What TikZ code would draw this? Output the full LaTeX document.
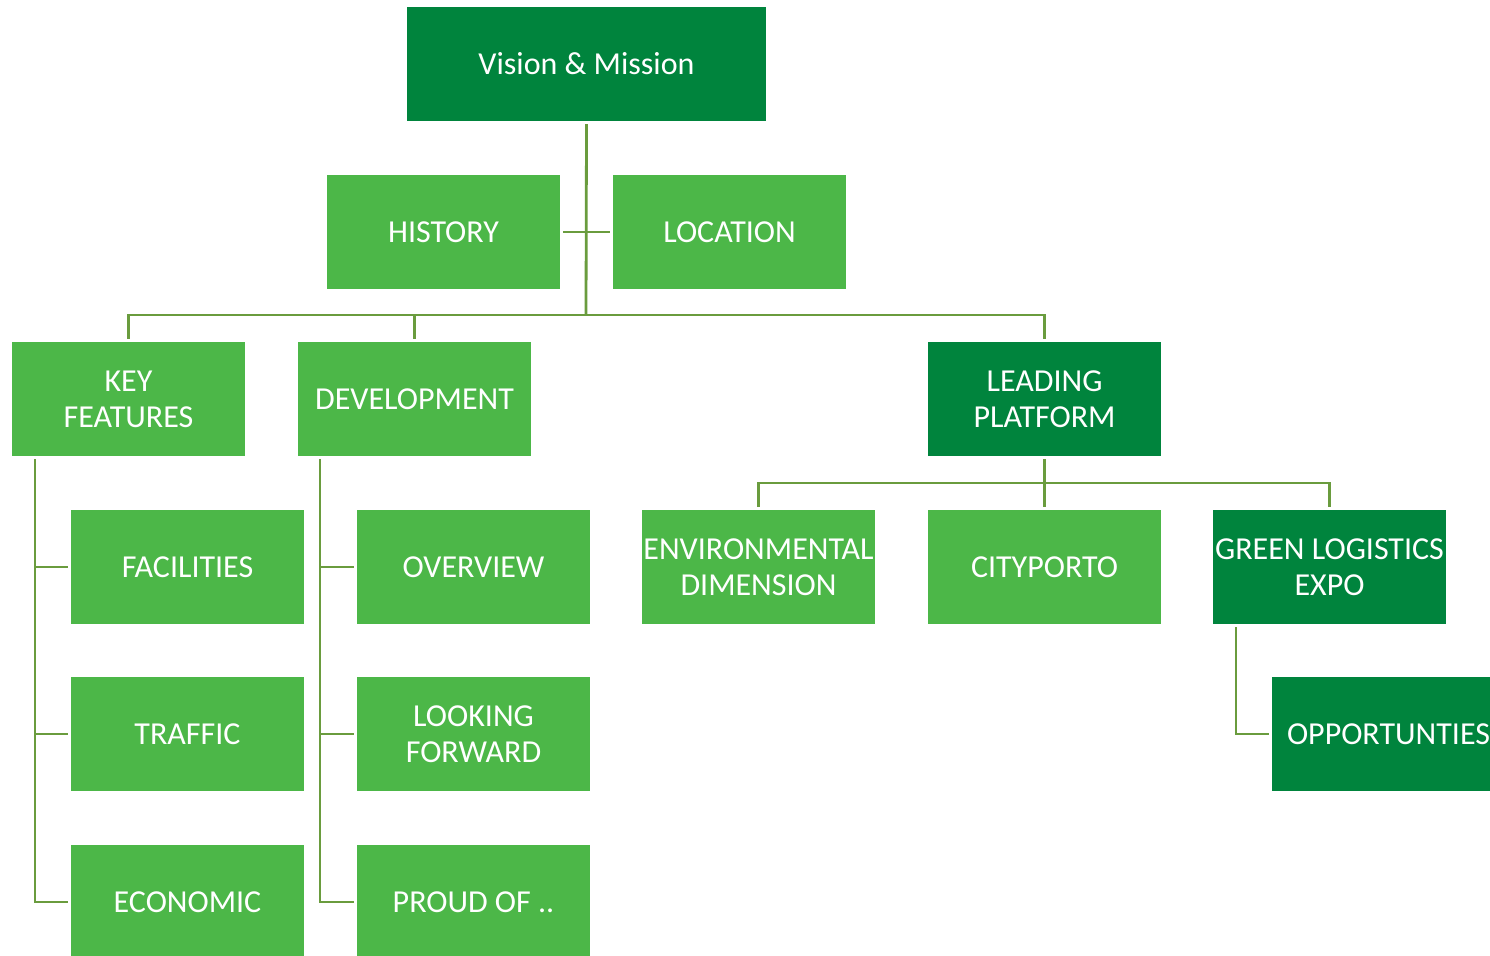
\documentclass[tikz,border=0pt]{standalone}
\usepackage{fontspec}
\setmainfont{Carlito}
\definecolor{darkg}{RGB}{0,132,61}
\definecolor{lightg}{RGB}{76,183,72}
\definecolor{linec}{RGB}{106,156,62}
\begin{document}
\begin{tikzpicture}[x=1pt,y=-1pt,
  box/.style={minimum width=233pt,minimum height=114pt,inner sep=0pt,align=center,text=white,
    font=\fontsize{32}{36}\selectfont},
  lbox/.style={box,fill=lightg},
  dbox/.style={box,fill=darkg},
  conn/.style={draw=linec,line width=2.8pt}]
\useasboundingbox (0,0) rectangle (1490,955);
\clip (0,0) rectangle (1490,955);
\node[dbox,minimum width=359pt] (vm) at (586.5,64) {Vision \& Mission};
\node[lbox] (hist) at (443.5,232) {HISTORY};
\node[lbox] (loc) at (729.5,232) {LOCATION};
\node[lbox] (key) at (128.5,399) {KEY\\FEATURES};
\node[lbox] (dev) at (414.5,399) {DEVELOPMENT};
\node[dbox] (lead) at (1044.5,399) {LEADING\\PLATFORM};
\node[lbox] (fac) at (187.5,567) {FACILITIES};
\node[lbox] (tra) at (187.5,734) {TRAFFIC};
\node[lbox] (eco) at (187.5,902) {ECONOMIC};
\node[lbox] (ove) at (473.5,567) {OVERVIEW};
\node[lbox] (look) at (473.5,734) {LOOKING\\FORWARD};
\node[lbox] (proud) at (473.5,902) {PROUD OF ..};
\node[lbox] (env) at (758.5,567) {ENVIRONMENTAL\\DIMENSION};
\node[lbox] (city) at (1044.5,567) {CITYPORTO};
\node[dbox] (green) at (1329.5,567) {GREEN LOGISTICS\\EXPO};
\node[dbox] (opp) at (1388.5,734) {OPPORTUNTIES};
% top trunk
\coordinate (j1) at (586,315);
\draw[conn] ([yshift=-3pt]vm.south) -- (j1);
\draw[conn] ([xshift=3pt]hist.east) -- ([xshift=-3pt]loc.west);
\draw[conn] ([yshift=3pt]key.north) -- (key.north |- j1) -- (lead.north |- j1) -- ([yshift=3pt]lead.north);
\draw[conn] (dev.north |- j1) -- ([yshift=3pt]dev.north);
% key features
\coordinate (kx) at (35,0);
\draw[conn] (kx |- key.south) ++(0,3) -- (kx |- eco.west) -- ([xshift=-3pt]eco.west);
\draw[conn] (kx |- fac.west) -- ([xshift=-3pt]fac.west);
\draw[conn] (kx |- tra.west) -- ([xshift=-3pt]tra.west);
% development
\coordinate (dx) at (320,0);
\draw[conn] (dx |- dev.south) ++(0,3) -- (dx |- proud.west) -- ([xshift=-3pt]proud.west);
\draw[conn] (dx |- ove.west) -- ([xshift=-3pt]ove.west);
\draw[conn] (dx |- look.west) -- ([xshift=-3pt]look.west);
% leading platform
\coordinate (j2) at (1044,483);
\draw[conn] ([yshift=-3pt]lead.south) -- ([yshift=3pt]city.north);
\draw[conn] ([yshift=3pt]env.north) -- (env.north |- j2) -- (green.north |- j2) -- ([yshift=3pt]green.north);
% green logistics
\coordinate (gx) at (1236,0);
\draw[conn] (gx |- green.south) ++(0,3) -- (gx |- opp.west) -- ([xshift=-3pt]opp.west);
\end{tikzpicture}
\end{document}
